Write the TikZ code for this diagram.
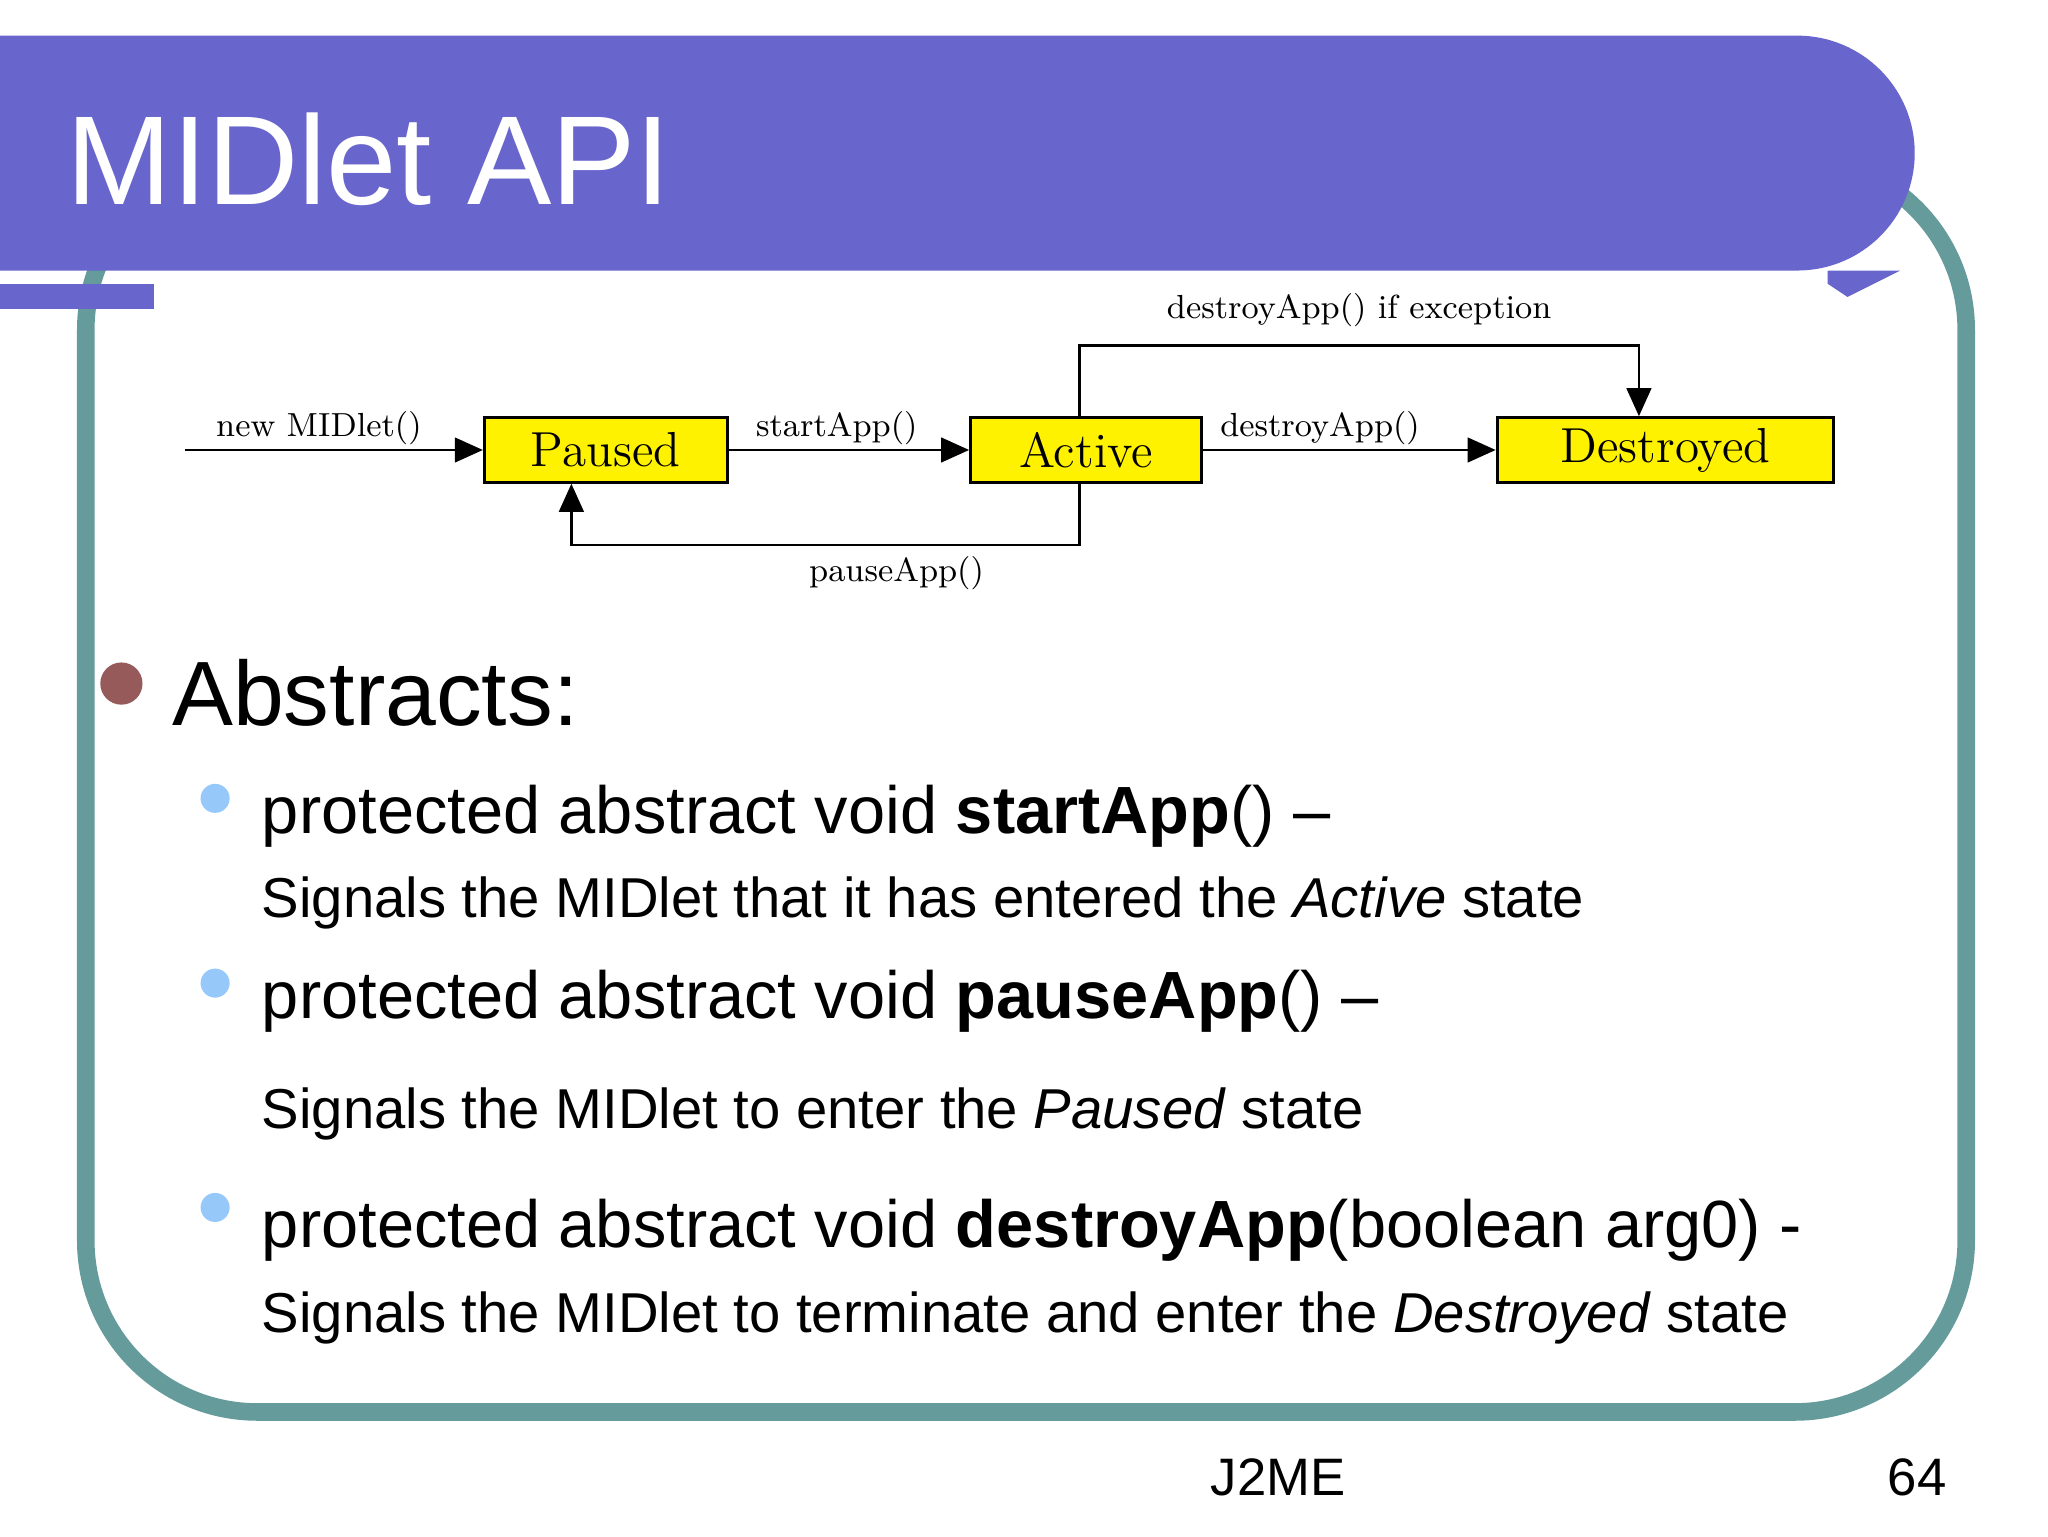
\documentclass[tikz,border=0pt]{standalone}
\usepackage{fontspec}
\setmainfont{Liberation Sans}
\usetikzlibrary{arrows.meta,positioning,calc}
\definecolor{titlebar}{RGB}{104,102,204}
\definecolor{frame}{RGB}{102,155,155}
\definecolor{dotbig}{RGB}{150,90,90}
\definecolor{dotsmall}{RGB}{150,200,250}
\newfontfamily\statefont{Latin Modern Roman}
\tikzset{
  state/.style={draw=black,fill=yellow,thick,minimum width=184\unitlen,minimum height=49\unitlen,inner sep=0pt,font=\statefont\fontsize{14}{14}\selectfont},
  edgelab/.style={font=\statefont\fontsize{9.5}{10}\selectfont,inner sep=1pt},
  trans/.style={thick,-{Triangle[length=8pt,width=7pt]}},
  txt/.style={anchor=base west,inner sep=0pt}
}
\newlength{\unitlen}\setlength{\unitlen}{0.0132cm}
\begin{document}
\begin{tikzpicture}[x=0.0132cm,y=-0.0132cm]
\useasboundingbox (0,0) rectangle (1552,1164);
\fill[white] (0,0) rectangle (1552,1164);
% frame
\draw[frame,line width=5pt,rounded corners=130\unitlen] (65,120) rectangle (1490,1070);
% title bar
\fill[titlebar] (0,27) -- (1362,27) arc (90:-90:89\unitlen) -- (0,205) -- cycle;
\fill[titlebar] (0,215) rectangle (117,234);
\fill[titlebar] (1385,205) -- (1440,205) -- (1400,225) -- (1385,215) -- cycle;
\node[txt,text=white,font=\fontsize{36}{36}\selectfont] (title) at (50,155) {MIDlet API};
% state diagram
\node[state,minimum width=184\unitlen] (paused) at (459,341) {Paused};
\node[state,minimum width=175\unitlen] (active) at (823,341) {Active};
\node[state,minimum width=255\unitlen] (destroyed) at (1262,341) {Destroyed};
\coordinate (start) at (140,341);
\draw[trans] (start) -- (paused) node[edgelab,pos=0.45,above] {new MIDlet()};
\draw[trans] (paused) -- (active) node[edgelab,pos=0.45,above] {startApp()};
\draw[trans] (active) -- (destroyed) node[edgelab,pos=0.4,above] {destroyApp()};
\draw[trans] ($(active.north)+(-5,0)$) |- (1242,262) node[edgelab,pos=0.75,above=4pt] {destroyApp() if exception} -- ($(destroyed.north)+(-20,0)$);
\draw[trans] ($(active.south)+(-5,0)$) |- (433,413) node[edgelab,pos=0.68,below=2pt] {pauseApp()} -- ($(paused.south)+(-26,0)$);
% bullets
\fill[dotbig] (92,518) circle[radius=16];
\node[txt,font=\fontsize{26}{26}\selectfont] (abstracts) at (130,550) {Abstracts:};
\foreach \y in {605,745,915} \fill[dotsmall] (163,\y) circle[radius=11];
\node[txt,font=\fontsize{19}{19}\selectfont] (start1) at (198,632) {protected abstract void \textbf{startApp}() --};
\node[txt,font=\fontsize{16}{16}\selectfont] (desc1) at (198,695) {Signals the MIDlet that it has entered the \textit{Active} state};
\node[txt,font=\fontsize{19}{19}\selectfont] (pause1) at (198,772) {protected abstract void \textbf{pauseApp}() --};
\node[txt,font=\fontsize{16}{16}\selectfont] (desc2) at (198,855) {Signals the MIDlet to enter the \textit{Paused} state};
\node[txt,font=\fontsize{19}{19}\selectfont] (destroy1) at (198,945) {protected abstract void \textbf{destroyApp}(boolean arg0) -};
\node[txt,font=\fontsize{16}{16}\selectfont] (desc3) at (198,1010) {Signals the MIDlet to terminate and enter the \textit{Destroyed} state};
% footer
\node[txt,font=\fontsize{15}{15}\selectfont] (footer) at (917,1133) {J2ME};
\node[txt,font=\fontsize{15}{15}\selectfont] (page) at (1430,1133) {64};
\end{tikzpicture}
\end{document}
